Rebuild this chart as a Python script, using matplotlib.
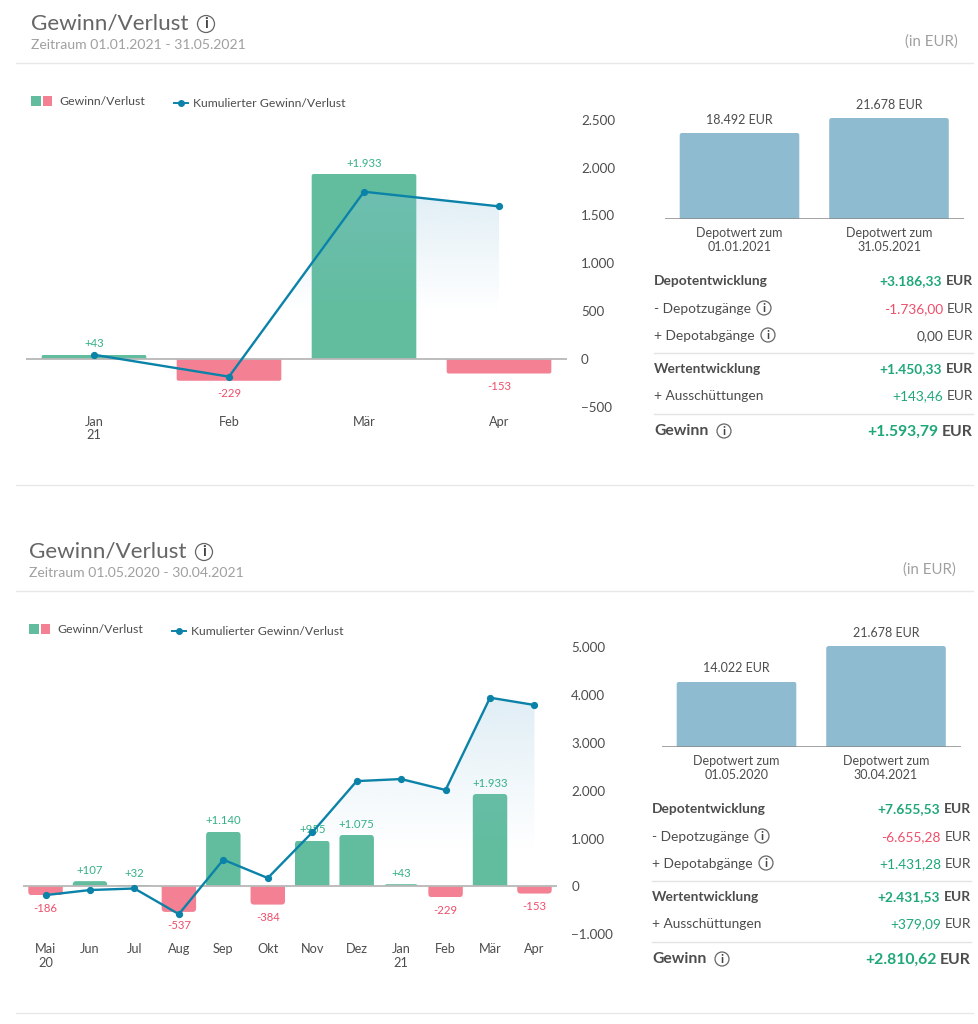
import matplotlib
matplotlib.use("Agg")
import matplotlib.pyplot as plt
import numpy as np
from matplotlib.patches import Circle, FancyBboxPatch, Polygon, Rectangle

W, H = 979, 1024
plt.rcParams["font.family"] = ["Lato", "DejaVu Sans"]

GREEN = "#62bd9f"
RED = "#f38093"
LINE = "#0b82a8"
TXT = "#4d4d4d"
GREY = "#a0a0a0"
VAL_GREEN = "#1fa876"
VAL_RED = "#ee4f6b"
BLUE_BAR = "#8fbbd1"

months_a = ["Jan\n21", "Feb", "Mär", "Apr"]
gain_a = [43, -229, 1933, -153]
cum_a = [43, -186, 1747, 1594]
yticks_a = [-500, 0, 500, 1000, 1500, 2000, 2500]

months_b = ["Mai\n20", "Jun", "Jul", "Aug", "Sep", "Okt", "Nov", "Dez", "Jan\n21", "Feb", "Mär", "Apr"]
gain_b = [-186, 107, 32, -537, 1140, -384, 955, 1075, 43, -229, 1933, -153]
cum_b = [-186, -79, -47, -584, 556, 172, 1127, 2202, 2245, 2016, 3949, 3796]
yticks_b = [-1000, 0, 1000, 2000, 3000, 4000, 5000]

depot_a = [18492, 21678]
depot_labels_a = ["Depotwert zum\n01.01.2021", "Depotwert zum\n31.05.2021"]
depot_b = [14022, 21678]
depot_labels_b = ["Depotwert zum\n01.05.2020", "Depotwert zum\n30.04.2021"]

zeitraum_a = "Zeitraum 01.01.2021 - 31.05.2021"
zeitraum_b = "Zeitraum 01.05.2020 - 30.04.2021"

rows_a = [
    ("Depotentwicklung", "+3.186,33", VAL_GREEN),
    ("- Depotzugänge", "-1.736,00", VAL_RED),
    ("+ Depotabgänge", "0,00", TXT),
    ("Wertentwicklung", "+1.450,33", VAL_GREEN),
    ("+ Ausschüttungen", "+143,46", VAL_GREEN),
    ("Gewinn", "+1.593,79", VAL_GREEN),
]
rows_b = [
    ("Depotentwicklung", "+7.655,53", VAL_GREEN),
    ("- Depotzugänge", "-6.655,28", VAL_RED),
    ("+ Depotabgänge", "+1.431,28", VAL_GREEN),
    ("Wertentwicklung", "+2.431,53", VAL_GREEN),
    ("+ Ausschüttungen", "+379,09", VAL_GREEN),
    ("Gewinn", "+2.810,62", VAL_GREEN),
]


def de(v):
    return f"{v:,}".replace(",", ".").replace("-", "\u2212")


def px_axes(fig, x0, y0, x1, y1):
    ax = fig.add_axes([x0 / W, 1 - y1 / H, (x1 - x0) / W, (y1 - y0) / H])
    ax.patch.set_alpha(0)
    for s in ax.spines.values():
        s.set_visible(False)
    return ax


def rounded_bar(ax, x, value, width, color, radius_px, px_x, px_y):
    # box runs past the baseline and is clipped there, so only the free end is round
    r = radius_px * px_x
    asp = px_y / px_x
    over = 2 * r * asp
    low = value if value < 0 else -over
    high = over if value < 0 else value
    patch = FancyBboxPatch((x - width / 2 + r, low + r * asp), width - 2 * r, high - low - 2 * r * asp,
                           boxstyle=f"round,pad={r},rounding_size={r}",
                           mutation_aspect=asp, fc=color, ec="none", zorder=2)
    ax.add_patch(patch)
    patch.set_clip_path(Rectangle((x - width, min(value, 0)), 2 * width, abs(value), transform=ax.transData))


def info_icon(ov, x, y, r):
    ov.add_patch(Circle((x, y), r, fc="white", ec="#666666", lw=0.9))
    ov.text(x, y + 0.3, "i", ha="center", va="center", fontsize=r * 1.25,
            color="#444444", fontweight="bold")


def gain_chart(fig, box, months, gain, cum, yticks, fade, radius):
    ax = px_axes(fig, *box)
    n = len(months)
    x = np.arange(n)
    ax.set_xlim(-0.5, n - 0.5)
    ax.set_ylim(yticks[0], yticks[-1])
    px_x = n / (box[2] - box[0])
    px_y = (yticks[-1] - yticks[0]) / (box[3] - box[1])

    for xi, v in zip(x, gain):
        rounded_bar(ax, xi, v, 0.775, GREEN if v > 0 else RED, radius, px_x, px_y)
        txt = f"+{de(v)}" if v > 0 else de(v).replace("\u2212", "-")
        ax.annotate(txt, (xi, v), xytext=(0, 7.8 if v > 0 else -9.5), textcoords="offset points",
                    ha="center", va="center", fontsize=8.2,
                    color="#35b086" if v > 0 else VAL_RED, zorder=3)

    # area under the line, fading out downwards
    top = max(cum)
    grad = np.zeros((256, 1, 4))
    grad[..., :3] = matplotlib.colors.to_rgb("#8fc3dd")
    grad[..., 3] = np.linspace(0.28, 0, 256)[:, None]
    im = ax.imshow(grad, extent=(x[0], x[-1], fade, top), origin="upper", aspect="auto", zorder=2.5)
    poly = Polygon(list(zip(x, cum)) + [(x[-1], fade), (x[0], fade)], closed=True,
                   transform=ax.transData, fc="none", ec="none")
    ax.add_patch(poly)
    im.set_clip_path(poly)
    ax.set_xlim(-0.5, n - 0.5)
    ax.set_ylim(yticks[0], yticks[-1])

    ax.axhline(0, color="#b8b8b8", lw=1.3, zorder=3)
    ax.plot(x, cum, color=LINE, lw=1.7, marker="o", ms=4.2, zorder=4)

    ax.yaxis.tick_right()
    ax.set_yticks(yticks, [de(t) for t in yticks])
    ax.set_xticks(x, months, linespacing=1.15)
    ax.tick_params(axis="both", length=0, labelcolor=TXT)
    ax.tick_params(axis="y", labelsize=9.6, pad=10.5)
    ax.tick_params(axis="x", labelsize=9.2, pad=6.5)
    return ax


def depot_chart(fig, box, values, labels):
    ax = px_axes(fig, *box)
    ax.set_xlim(-0.5, 1.5)
    ymax = 21678 * (box[3] - box[1]) / 101
    ax.set_ylim(0, ymax)
    px_x = 2 / (box[2] - box[0])
    px_y = ymax / (box[3] - box[1])
    for i, v in enumerate(values):
        rounded_bar(ax, i, v, 0.8, BLUE_BAR, 2.5, px_x, px_y)
        ax.annotate(f"{de(v)} EUR", (i, v), xytext=(0, 9.5), textcoords="offset points",
                    ha="center", va="center", fontsize=9, color=TXT)
    ax.axhline(0, color="#8a8a8a", lw=1.1, zorder=3)
    ax.set_yticks([])
    ax.set_xticks([0, 1], labels, linespacing=1.2)
    ax.tick_params(axis="x", length=0, labelsize=9, labelcolor=TXT, pad=6)
    return ax


def value_right(fig, ov, x, y, number, color, size, bold):
    r = fig.canvas.get_renderer()
    eur = ov.text(x, y, "EUR", ha="right", va="center", fontsize=size, color=TXT,
                  fontweight="bold" if bold else "normal")
    w = eur.get_window_extent(r).width
    ov.text(x - w - 3.5, y, number, ha="right", va="center", fontsize=size, color=color,
            fontweight="bold" if bold else "normal")


def section(fig, ov, dx, dy, zeitraum, rows):
    ov.text(31 + dx, 23.5 + dy, "Gewinn/Verlust", fontsize=16.2, color="#666666", va="center")
    info_icon(ov, 206 + dx, 24 + dy, 8.5)
    ov.text(31 + dx, 45 + dy, zeitraum, fontsize=10.1, color=GREY, va="center")
    ov.text(958 + dx, 41.5 + dy, "(in EUR)", fontsize=10.8, color=GREY, va="center", ha="right")

    ov.plot([16, 973], [63 + dy, 63 + dy], color="#e8e8e8", lw=1)
    ov.plot([16, 973], [485 + dy, 485 + dy], color="#e8e8e8", lw=1)

    # legend
    ov.add_patch(Rectangle((31 + dx, 96 + dy), 10, 10, fc=GREEN, ec="none"))
    ov.add_patch(Rectangle((43 + dx, 96 + dy), 9.5, 10, fc=RED, ec="none"))
    ov.text(59.5 + dx, 101.5 + dy, "Gewinn/Verlust", fontsize=8.8, color=TXT, va="center")
    ov.plot([174 + dx, 188 + dx], [103 + dy, 103 + dy], color=LINE, lw=1.4)
    ov.plot([181 + dx], [103 + dy], color=LINE, marker="o", ms=4)
    ov.text(193 + dx, 103.5 + dy, "Kumulierter Gewinn/Verlust", fontsize=8.8, color=TXT, va="center")

    # summary table
    row_y = [281, 309, 336, 369, 396, 431]
    for (label, number, color), y in zip(rows, row_y):
        head = label in ("Depotentwicklung", "Wertentwicklung")
        last = label == "Gewinn"
        bold = head or last
        size = 11.3 if last else 9.9
        ov.text(654 + dx, y + dy, label, fontsize=size, color=TXT, va="center",
                fontweight="bold" if bold else "normal")
        value_right(fig, ov, 973 + dx, y + dy + (1 if last else 0), number, color, size, bold)
    info_icon(ov, 764 + dx, 308 + dy, 7)
    info_icon(ov, 768 + dx, 335 + dy, 7)
    info_icon(ov, 724 + dx, 431 + dy, 7)
    for y in (352.5, 413.5):
        ov.plot([654 + dx, 973 + dx], [y + dy, y + dy], color="#e4e4e4", lw=1)


fig = plt.figure(figsize=(W / 100, H / 100), dpi=100, facecolor="white")
ov = fig.add_axes([0, 0, 1, 1], zorder=5)
ov.set_xlim(0, W)
ov.set_ylim(H, 0)
ov.axis("off")
ov.patch.set_alpha(0)

section(fig, ov, 0, 0, zeitraum_a, rows_a)
section(fig, ov, -2, 528, zeitraum_b, rows_b)

gain_chart(fig, (26.5, 119.7, 566.5, 406.7), months_a, gain_a, cum_a, yticks_a, 500, 2)
gain_chart(fig, (23.3, 647.5, 556.7, 934), months_b, gain_b, cum_b, yticks_b, 750, 3.5)

depot_chart(fig, (664.75, 109, 963.75, 219), depot_a, depot_labels_a)
depot_chart(fig, (661.75, 637, 960.75, 747), depot_b, depot_labels_b)

fig.savefig("out.png", dpi=100)
